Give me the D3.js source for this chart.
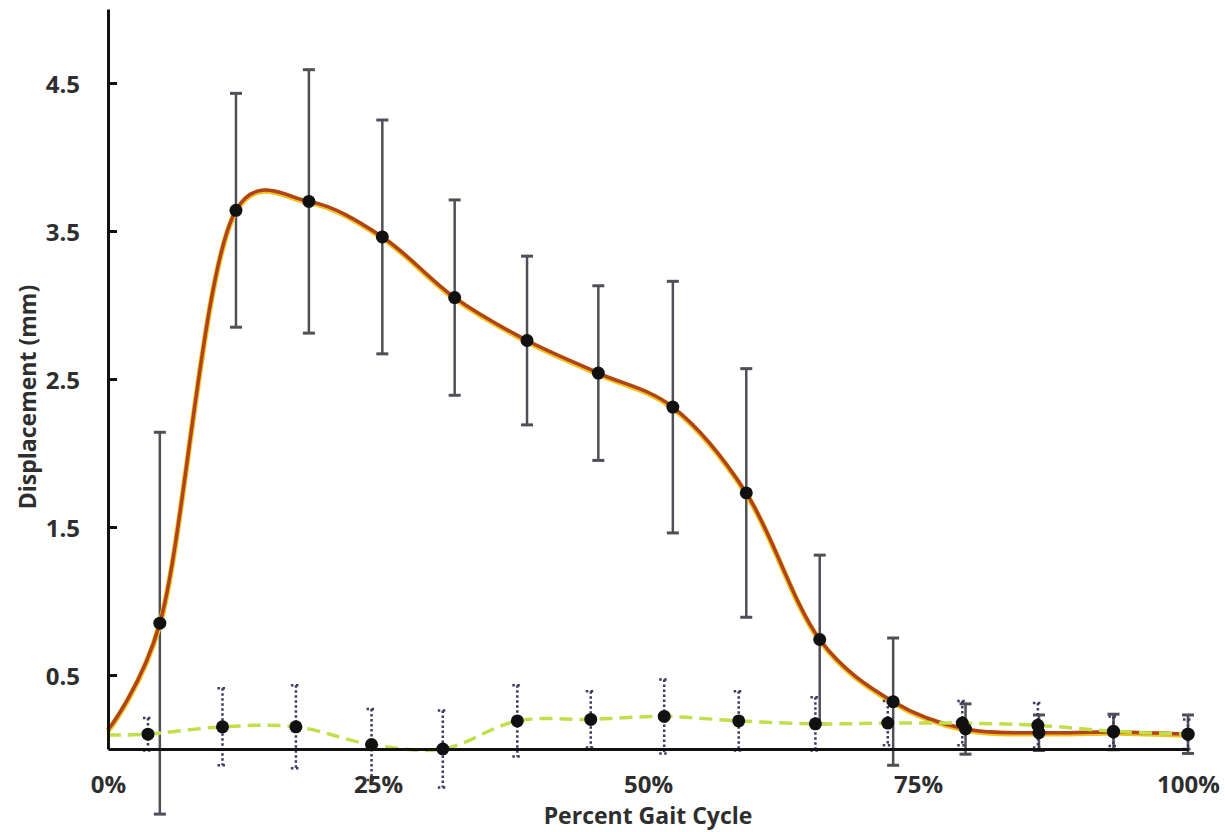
<!DOCTYPE html>
<html>
<head>
<meta charset="utf-8">
<script src="https://cdn.jsdelivr.net/npm/d3@7"></script>
<style>
  html, body { margin: 0; padding: 0; background: #fff; }
  #chart text { font-family: "Open Sans", "DejaVu Sans", sans-serif; font-weight: 700; fill: #2e2e2e; }
</style>
</head>
<body>
<div id="chart"></div>
<script>
  // Solid series (mean displacement with SD), x in percent of gait cycle
  const redX = [4.8, 11.85, 18.6, 25.4, 32.1, 38.8, 45.4, 52.3, 59.1, 65.9, 72.7, 79.4, 86.2, 93.1, 100];
  const redMean = [0.85, 3.64, 3.70, 3.46, 3.05, 2.76, 2.54, 2.31, 1.73, 0.74, 0.32, 0.135, 0.11, 0.115, 0.10];
  const redSD = [1.29, 0.79, 0.89, 0.79, 0.66, 0.57, 0.59, 0.85, 0.84, 0.57, 0.43, 0.17, 0.12, 0.12, 0.13];
  const redStart = 0.13;

  // Dashed series
  const greenX = [3.7, 10.6, 17.4, 24.4, 31.0, 37.9, 44.7, 51.5, 58.4, 65.5, 72.2, 79.1, 86.1, 93.1, 100];
  const greenMean = [0.10, 0.15, 0.15, 0.03, 0.0, 0.19, 0.20, 0.22, 0.19, 0.17, 0.175, 0.175, 0.16, 0.12, 0.10];
  const greenSD = [0.11, 0.26, 0.28, 0.24, 0.26, 0.24, 0.19, 0.25, 0.20, 0.18, 0.15, 0.15, 0.15, 0.10, 0.10];
  const greenStart = 0.095;

  // Tick labels
  const yTicks = [0.5, 1.5, 2.5, 3.5, 4.5];
  const xTicks = [0, 25, 50, 75, 100];

  const width = 1225;
  const height = 832;
  const margin = { top: 9, right: 37, bottom: 83, left: 108 };

  const svg = d3.select('#chart')
    .append('svg')
    .attr('width', width)
    .attr('height', height);

  const x = d3.scaleLinear().domain([0, 100]).range([margin.left, width - margin.right]);
  const y = d3.scaleLinear().domain([0, 5]).range([height - margin.bottom, margin.top]);

  const redData = redX.map((v, i) => ({ x: v, y: redMean[i], sd: redSD[i] }));
  const greenData = greenX.map((v, i) => ({ x: v, y: greenMean[i], sd: greenSD[i] }));

  const line = d3.line()
    .x(d => x(d.x))
    .y(d => y(d.y))
    .curve(d3.curveCatmullRom.alpha(0.25));

  // Solid series error bars
  const redErr = svg.append('g');
  redData.forEach(d => {
    redErr.append('line')
      .attr('x1', x(d.x)).attr('x2', x(d.x))
      .attr('y1', y(d.y + d.sd)).attr('y2', y(d.y - d.sd))
      .attr('stroke', '#4f4f55').attr('stroke-width', 2.5);
    [d.y + d.sd, d.y - d.sd].forEach(v => {
      redErr.append('line')
        .attr('x1', x(d.x) - 6).attr('x2', x(d.x) + 6)
        .attr('y1', y(v)).attr('y2', y(v))
        .attr('stroke', '#4f4f5a').attr('stroke-width', 3);
    });
  });

  // Solid series smoothed line (with a yellowish halo)
  const redLine = [{ x: 0, y: redStart }].concat(redData);
  svg.append('path')
    .datum(redLine)
    .attr('d', line)
    .attr('fill', 'none')
    .attr('stroke', '#f1c21b')
    .attr('stroke-width', 5.5)
    .attr('transform', 'translate(0,1)');
  svg.append('path')
    .datum(redLine)
    .attr('d', line)
    .attr('fill', 'none')
    .attr('stroke', '#b0421c')
    .attr('stroke-width', 3.5);

  // Dashed series error bars (dotted)
  const greenErr = svg.append('g');
  greenData.forEach(d => {
    greenErr.append('line')
      .attr('x1', x(d.x)).attr('x2', x(d.x))
      .attr('y1', y(d.y + d.sd)).attr('y2', y(d.y - d.sd))
      .attr('stroke', '#3b3b63').attr('stroke-width', 2.5)
      .attr('stroke-dasharray', '2.5,2.5');
    [d.y + d.sd, d.y - d.sd].forEach(v => {
      greenErr.append('line')
        .attr('x1', x(d.x) - 5).attr('x2', x(d.x) + 5)
        .attr('y1', y(v)).attr('y2', y(v))
        .attr('stroke', '#3b3b63').attr('stroke-width', 2.5)
        .attr('stroke-dasharray', '2.5,2.5');
    });
  });

  // Dashed series line
  svg.append('path')
    .datum([{ x: 0, y: greenStart }].concat(greenData))
    .attr('d', line)
    .attr('fill', 'none')
    .attr('stroke', '#bfe04a')
    .attr('stroke-width', 3.5)
    .attr('stroke-dasharray', '13,7');

  // Markers
  svg.append('g')
    .selectAll('circle')
    .data(redData.concat(greenData))
    .enter()
    .append('circle')
    .attr('cx', d => x(d.x))
    .attr('cy', d => y(d.y))
    .attr('r', 6.5)
    .attr('fill', '#111');

  // Y axis: ticks point inward, labels on the left
  const yAxis = svg.append('g')
    .attr('transform', `translate(${x(0)},0)`)
    .call(d3.axisLeft(y)
      .tickValues(yTicks)
      .tickFormat(d3.format('.1f'))
      .tickSizeInner(-9)
      .tickSizeOuter(0)
      .tickPadding(28));
  yAxis.select('.domain').attr('stroke', '#111').attr('stroke-width', 3);
  yAxis.selectAll('.tick line').attr('stroke', '#111').attr('stroke-width', 3);
  yAxis.selectAll('.tick text').style('font-size', '24px').attr('dy', '0.4em');

  // X axis
  const xAxis = svg.append('g')
    .attr('transform', `translate(0,${y(0)})`)
    .call(d3.axisBottom(x)
      .tickValues(xTicks)
      .tickFormat(d => d + '%')
      .tickSize(0)
      .tickPadding(32));
  xAxis.select('.domain').attr('stroke', '#111').attr('stroke-width', 3);
  xAxis.selectAll('.tick text').style('font-size', '24px').attr('dy', '0.5em');

  // Axis titles
  svg.append('text')
    .attr('x', 648)
    .attr('y', 824)
    .attr('text-anchor', 'middle')
    .style('font-size', '23px')
    .text('Percent Gait Cycle');

  svg.append('text')
    .attr('transform', 'translate(27,397) rotate(-90)')
    .attr('text-anchor', 'middle')
    .attr('dominant-baseline', 'central')
    .style('font-size', '23px')
    .text('Displacement (mm)');
</script>
</body>
</html>
